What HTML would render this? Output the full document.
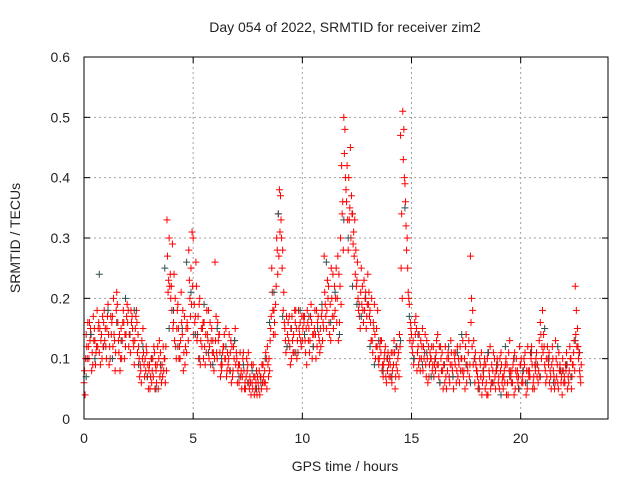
<!DOCTYPE html>
<html><head><meta charset="utf-8"><style>
body{margin:0;background:#fff}
svg text{font-family:"Liberation Sans",sans-serif;font-size:14px;fill:#222}
</style></head><body>
<svg id="c" width="640" height="480" xmlns="http://www.w3.org/2000/svg">
<text x="345" y="32" text-anchor="middle">Day 054 of 2022, SRMTID for receiver zim2</text>
<text x="345" y="471" text-anchor="middle">GPS time / hours</text>
<text transform="translate(20,238) rotate(-90)" text-anchor="middle">SRMTID / TECUs</text>
<g id="grid"></g><g id="pts"></g><g id="axes"></g>
</svg>
<script>
const xTicks=[0,5,10,15,20];
const yTicks=[0,0.1,0.2,0.3,0.4,0.5,0.6];
const yTickLabels=["0","0.1","0.2","0.3","0.4","0.5","0.6"];
const step=0.1, stepD=0.2;
const redA=[.06,.14,.12,.15,.09,.13,.18,.11,.14,.16,.12,.19,.10,.17,.13,.21,.11,.15,.18,.12,.16,.14,.17,.09,.18,.12,.08,.15,.10,.07,.09,.06,.12,.08,.05,.11,.07,.10,.33,.30,.22,.16,.12,.19,.10,.14,.17,.11,.28,.25,.30,.17,.14,.20,.12,.16,.11,.18,.09,.13,.26,.10,.14,.08,.12,.15,.09,.11,.07,.13,.10,.06,.08,.11,.05,.09,.07,.06,.04,.08,.05,.07,.09,.06,.12,.08,.25,.18,.22,.34,.37,.28,.15,.12,.17,.10,.14,.18,.11,.16,.13,.17,.09,.15,.19,.12,.14,.16,.11,.18,.27,.15,.22,.13,.24,.18,.20,.16,.42,.50,.38,.28,.45,.34,.33,.23,.19,.25,.16,.21,.24,.18,.13,.19,.15,.09,.11,.07,.12,.08,.10,.06,.13,.09,.11,.47,.51,.39,.30,.19,.14,.09,.17,.12,.08,.15,.11,.13,.07,.10,.12,.08,.14,.06,.11,.09,.05,.10,.13,.07,.09,.12,.06,.10,.08,.14,.11,.27,.18,.06,.08,.05,.11,.07,.09,.04,.12,.06,.10,.08,.07,.11,.05,.09,.06,.13,.08,.04,.10,.07,.09,.06,.11,.05,.08,.12,.07,.10,.06,.16,.18,.09,.07,.11,.05,.08,.13,.06,.09,.04,.07,.11,.06,.10,.09,.22,.15,.08];
const redB=[.04,.10,.16,.08,.13,.11,.15,.09,.17,.13,.15,.09,.14,.20,.11,.16,.08,.13,.10,.17,.12,.18,.13,.15,.11,.07,.13,.09,.12,.05,.07,.10,.05,.09,.13,.06,.08,.12,.21,.24,.29,.13,.15,.10,.21,.08,.12,.15,.20,.31,.19,.22,.10,.13,.16,.09,.14,.12,.15,.08,.17,.13,.07,.11,.10,.08,.14,.06,.12,.09,.08,.11,.07,.05,.10,.06,.04,.09,.05,.07,.04,.09,.06,.10,.07,.15,.18,.14,.28,.38,.30,.21,.11,.16,.09,.13,.18,.10,.15,.12,.17,.11,.16,.13,.10,.15,.18,.14,.12,.16,.19,.23,.14,.20,.17,.25,.13,.30,.36,.48,.42,.33,.37,.31,.28,.20,.15,.22,.18,.17,.21,.13,.16,.10,.18,.12,.08,.10,.06,.09,.07,.11,.05,.08,.14,.34,.48,.32,.21,.16,.11,.16,.08,.14,.10,.12,.09,.06,.11,.08,.09,.13,.07,.10,.05,.12,.08,.06,.09,.11,.06,.10,.08,.13,.05,.09,.07,.20,.13,.09,.05,.09,.06,.10,.04,.08,.06,.11,.05,.09,.10,.06,.08,.04,.11,.07,.09,.05,.08,.12,.06,.10,.04,.08,.11,.05,.09,.07,.13,.10,.14,.06,.10,.08,.12,.05,.07,.11,.06,.08,.09,.05,.12,.07,.13,.18,.10,.06];
const redC=[.08,.12,.10,.14,.17,.09,.12,.15,.10,.18,.10,.14,.17,.12,.08,.19,.14,.10,.16,.14,.18,.11,.15,.13,.16,.10,.06,.11,.08,.09,.05,.08,.11,.06,.10,.08,.12,.06,.27,.22,.18,.24,.10,.15,.13,.18,.09,.16,.23,.19,.14,.26,.17,.09,.15,.12,.18,.10,.13,.11,.13,.16,.11,.09,.14,.07,.10,.13,.08,.15,.06,.09,.05,.08,.07,.11,.06,.05,.07,.04,.08,.05,.07,.11,.09,.13,.21,.16,.30,.27,.33,.18,.13,.14,.12,.17,.11,.15,.18,.13,.15,.13,.18,.11,.16,.14,.10,.17,.15,.13,.21,.18,.16,.25,.15,.20,.27,.22,.34,.44,.36,.40,.30,.29,.24,.26,.17,.19,.23,.15,.19,.16,.11,.14,.12,.10,.13,.09,.07,.11,.09,.08,.11,.12,.07,.25,.43,.36,.25,.13,.12,.10,.15,.09,.13,.08,.14,.10,.09,.12,.07,.11,.09,.12,.08,.06,.10,.07,.11,.05,.11,.07,.12,.08,.10,.06,.13,.16,.09,.11,.07,.10,.04,.09,.06,.11,.05,.08,.07,.10,.05,.09,.07,.10,.04,.08,.06,.11,.07,.05,.10,.08,.06,.12,.07,.09,.05,.11,.08,.14,.11,.08,.12,.06,.09,.07,.10,.05,.08,.10,.06,.09,.08,.05,.11,.14,.12,.07];
const redD=[.10,.16,.13,.11,.15,.12,.16,.13,.12,.15,.17,.12,.16,.14,.18,.13,.10,.16,.14,.19,.14,.16,.12,.17,.14,.09,.10,.07,.11,.08,.10,.07,.09,.12,.07,.09,.10,.08,.23,.20,.15,.20,.18,.12,.16,.11,.15,.13,.17,.22,.16,.13,.19,.15,.10,.14,.13,.16,.11,.10,.11,.14,.09,.12,.10,.11,.08,.12,.10,.11,.09,.07,.10,.06,.08,.05,.09,.07,.06,.06,.07,.06,.08,.05,.10,.17,.14,.19,.24,.31,.25,.16,.17,.13,.15,.11,.16,.13,.14,.17,.16,.15,.13,.17,.14,.18,.12,.13,.17,.15,.17,.20,.19,.17,.22,.16,.24,.19,.28,.40,.33,.35,.34,.27,.22,.18,.21,.18,.20,.19,.17,.20,.15,.12,.10,.13,.09,.11,.10,.07,.11,.09,.07,.10,.12,.20,.40,.28,.20,.15,.13,.14,.11,.10,.12,.10,.07,.12,.10,.09,.10,.09,.12,.08,.09,.07,.11,.09,.08,.10,.08,.09,.10,.07,.12,.08,.09,.12,.10,.08,.06,.07,.08,.05,.10,.07,.09,.06,.08,.06,.08,.07,.06,.09,.08,.06,.10,.08,.06,.09,.07,.09,.08,.07,.10,.06,.08,.09,.07,.12,.12,.10,.09,.07,.10,.06,.09,.08,.07,.06,.08,.07,.10,.09,.08,.12,.11,.09];
const dark=[.07,.14,.10,.24,.12,.18,.10,.16,.13,.20,.14,.18,.09,.12,.07,.10,.05,.09,.25,.15,.18,.12,.15,.26,.21,.14,.10,.19,.11,.09,.15,.10,.12,.08,.13,.07,.09,.06,.08,.05,.06,.10,.16,.21,.34,.17,.12,.15,.11,.18,.14,.17,.12,.15,.19,.26,.16,.21,.14,.33,.30,.22,.19,.17,.20,.12,.09,.13,.08,.10,.07,.12,.13,.35,.17,.10,.14,.09,.11,.07,.10,.06,.09,.12,.07,.11,.14,.09,.06,.10,.05,.08,.11,.06,.09,.04,.12,.07,.10,.05,.08,.06,.11,.09,.07,.15,.10,.06,.12,.08,.09,.07,.13,.11];
const L=84,R=608,T=57,B=419,NS="http://www.w3.org/2000/svg";
const xs=v=>L+v/24*(R-L), ys=v=>B-v/0.6*(B-T);
function mk(tag,at,par){const e=document.createElementNS(NS,tag);for(const k in at)e.setAttribute(k,at[k]);par.appendChild(e);return e;}
const grid=document.getElementById('grid'),axes=document.getElementById('axes'),pts=document.getElementById('pts');
xTicks.forEach(t=>{const x=xs(t);
 if(t>0){const g=mk('line',{x1:x,x2:x,y1:T,y2:B,stroke:'#a0a0a0','stroke-dasharray':'2,3'},grid);
 
 }
 mk('line',{x1:x,x2:x,y1:B,y2:B-6,stroke:'#000'},axes);mk('line',{x1:x,x2:x,y1:T,y2:T+6,stroke:'#000'},axes);
 const tx=mk('text',{x:x,y:B+24,'text-anchor':'middle'},axes);tx.textContent=t;
 
 });
yTicks.forEach((t,i)=>{const y=ys(t);
 if(t>0&&t<0.6){const g=mk('line',{x1:L,x2:R,y1:y,y2:y,stroke:'#a0a0a0','stroke-dasharray':'2,3'},grid);
 
 }
 mk('line',{x1:L,x2:L+6,y1:y,y2:y,stroke:'#000'},axes);mk('line',{x1:R,x2:R-6,y1:y,y2:y,stroke:'#000'},axes);
 const tx=mk('text',{x:L-14,y:y+5,'text-anchor':'end'},axes);tx.textContent=yTickLabels[i];
 
 });
const box=mk('rect',{x:L,y:T,width:R-L,height:B-T,fill:'none',stroke:'#000'},axes);


function plus(t,v,col,name){const x=xs(t),y=ys(v);
 const p=mk('path',{d:`M${x-3.5},${y}h7M${x},${y-3.5}v7`,stroke:col,'stroke-width':1,fill:'none'},pts);
 
 }
redA.forEach((v,i)=>plus(i*step,v,'#ff0000','srmtid-point'));
redC.forEach((v,i)=>plus(i*step+0.025,v,'#ff0000','srmtid-point'));
dark.forEach((v,i)=>plus(i*stepD+0.1,v,'#2f4f4f','srmtid-point-dark'));
redB.forEach((v,i)=>plus(i*step+0.05,v,'#ff0000','srmtid-point'));
redD.forEach((v,i)=>plus(i*step+0.075,v,'#ff0000','srmtid-point'));
</script>
</body></html>
